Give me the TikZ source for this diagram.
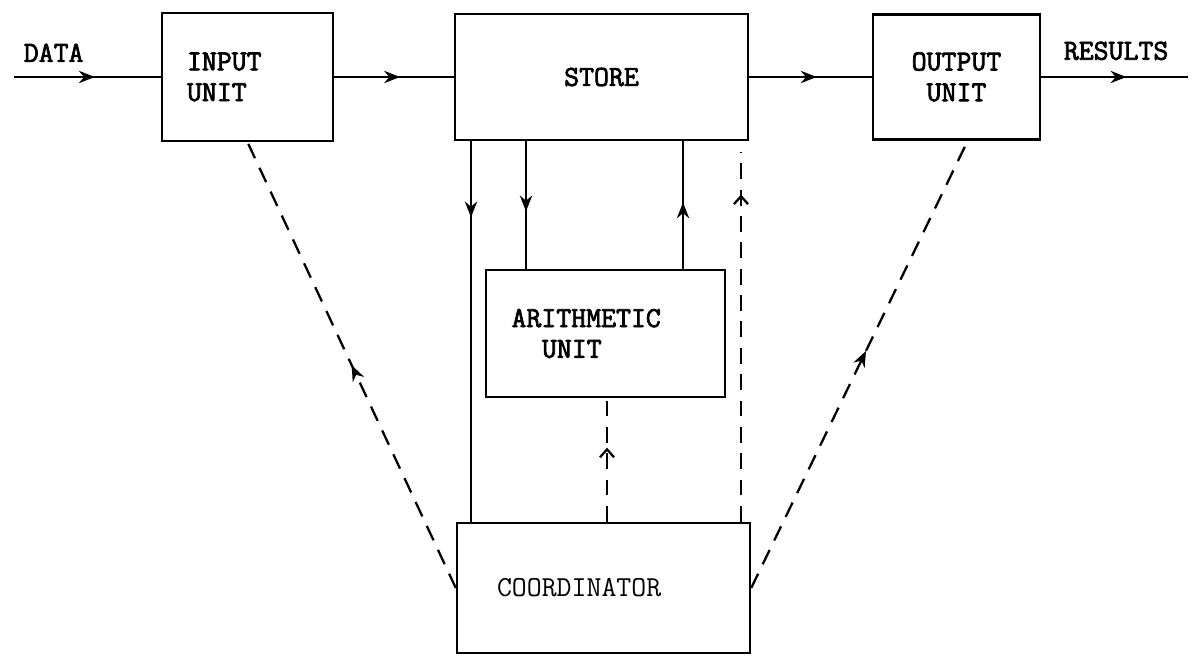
\documentclass[tikz,border=0pt]{standalone}
\usepackage{fontspec}
\setmonofont{Latin Modern Mono}[AutoFakeBold=2.5]
\usetikzlibrary{arrows.meta, positioning, decorations.markings}
\newcommand{\unitfont}{\ttfamily\bfseries\fontsize{16.5}{17.5}\selectfont}

\begin{document}
\begin{tikzpicture}[x=0.02cm, y=-0.02cm,
  box/.style={draw, line width=1.4pt, inner sep=0pt, font=\unitfont},
  lbl/.style={inner sep=0pt, font=\unitfont},
  flow/.style={line width=1.3pt},
  link/.style={line width=1.3pt, dash pattern=on 9pt off 6pt},
  tip/.style={postaction={decorate}, decoration={markings,
      mark=at position #1 with {\arrow{Stealth[length=9pt, width=7pt]}}}},
  otip/.style={postaction={decorate}, decoration={markings,
      mark=at position #1 with {\arrow{Straight Barb[length=4.5pt, width=8pt, line width=1.3pt]}}}}]
  \useasboundingbox (0,0) rectangle (1192,663);
  % units
  \node[box, minimum width=3.42cm, minimum height=2.56cm, text width=2.42cm,
    inner xsep=0.5cm, align=left] (in) at (247.5,77) {INPUT\\UNIT};
  \node[box, minimum width=5.86cm, minimum height=2.52cm] (store) at (601.5,77) {STORE};
  \node[box, minimum width=3.34cm, minimum height=2.5cm, align=center] (out) at (956.5,77) {OUTPUT\\UNIT};
  \node[box, minimum width=4.78cm, minimum height=2.54cm, text width=3.76cm,
    inner xsep=0.51cm, align=left] (arith) at (605.5,333.5) {ARITHMETIC\\\hspace*{1.05em}UNIT};
  \node[box, minimum width=5.86cm, minimum height=2.6cm, text width=4.26cm,
    inner xsep=0.8cm, align=left, font=\ttfamily\fontsize{16.5}{17.5}\selectfont] (coord) at (603.5,588) {COORDINATOR};
  % free ends and line positions
  \coordinate (data) at (14,77);
  \coordinate (res) at (1188,77);
  \coordinate (c1) at (471,0);
  \coordinate (c2) at (526,0);
  \coordinate (c3) at (683,0);
  \coordinate (c4) at (741,0);
  \coordinate (c5) at (607,0);
  % main flow
  \draw[flow, tip=0.55] (data) -- node[lbl, above=8pt, pos=0.27]{DATA} (in);
  \draw[flow, tip=0.55] (in) -- (store);
  \draw[flow, tip=0.55] (store) -- (out);
  \draw[flow, tip=0.58] (out) -- node[lbl, above=9pt, pos=0.51]{RESULTS} (res);
  % store links
  \draw[flow, tip=0.2] (store.south -| c1) -- (coord.north -| c1);
  \draw[flow, tip=0.55] (store.south -| c2) -- (arith.north -| c2);
  \draw[flow, tip=0.52] (arith.north -| c3) -- (store.south -| c3);
  % control links
  \draw[link, otip=0.86, shorten >=6pt] (coord.north -| c4) -- (store.south -| c4);
  \draw[link, otip=0.6] (coord.north -| c5) -- (arith.south -| c5);
  \draw[link, tip=0.5] (coord.west) -- (in.south);
  \draw[link, tip=0.53] (coord.east) -- (out.280);
\end{tikzpicture}
\end{document}
